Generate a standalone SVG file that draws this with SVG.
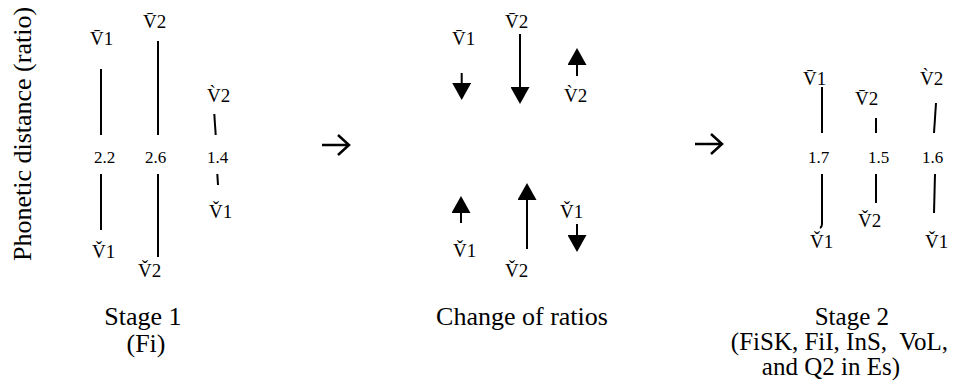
<svg xmlns="http://www.w3.org/2000/svg" width="959" height="389" viewBox="0 0 959 389">
<style>
text{font-family:"Liberation Serif","Times New Roman",serif;fill:#000}
.v{font-size:19px}
.n{font-size:17px}
.c{font-size:26px}
.c2{font-size:25px}
.ln{stroke:#000;stroke-width:2;fill:none}
.sh{stroke:#000;stroke-width:2;fill:none;marker-end:url(#ah)}
.ra{stroke:#000;stroke-width:2.5;fill:none}
</style>
<defs>
<marker id="ah" markerUnits="userSpaceOnUse" markerWidth="18" markerHeight="19" refX="0" refY="9.5" orient="auto" viewBox="0 0 18 19">
<path d="M0,0 L17,9.5 L0,19 z" fill="#000"/>
</marker>
</defs>
<rect width="959" height="389" fill="#fff"/>
<g id="yaxis"><text class="c" transform="translate(31,134) rotate(-90)" text-anchor="middle">Phonetic distance (ratio)</text></g>

<g id="connectors">
<line class="ln" x1="101" y1="69" x2="101" y2="135"/>
<line class="ln" x1="101" y1="174" x2="101" y2="230"/>
<line class="ln" x1="158" y1="41" x2="158" y2="135"/>
<line class="ln" x1="158" y1="174" x2="158" y2="257"/>
<line class="ln" x1="214.3" y1="114" x2="215.7" y2="135"/>
<line class="ln" x1="217.3" y1="174" x2="218" y2="185"/>
<path class="ra" d="M322,145 H348 M338,135 L349,145 L338,155"/>
<line class="sh" x1="461.7" y1="73" x2="461.7" y2="83"/>
<line class="sh" x1="520" y1="34" x2="520" y2="87"/>
<line class="sh" x1="577" y1="76" x2="577" y2="65"/>
<line class="sh" x1="461" y1="223" x2="461" y2="213"/>
<line class="sh" x1="527" y1="249" x2="527" y2="200"/>
<line class="sh" x1="577" y1="224" x2="577" y2="235"/>
<path class="ra" d="M695,144 H721 M711,134 L722,144 L711,154"/>
<line class="ln" x1="822" y1="87" x2="822" y2="133"/>
<path class="ln" d="M822,174 V224 Q822,227 820,228"/>
<line class="ln" x1="876" y1="118" x2="876" y2="133"/>
<line class="ln" x1="876" y1="174" x2="876" y2="203"/>
<line class="ln" x1="936" y1="103" x2="934" y2="133"/>
<line class="ln" x1="935" y1="174" x2="934" y2="213"/>
</g>

<g id="stage1">
<g id="s1-v1-top"><text class="v" x="90" y="45">V&#x304;1</text></g>
<g id="s1-r1"><text class="n" x="94" y="163">2.2</text></g>
<g id="s1-v1-bot"><text class="v" x="92" y="258">V&#x30C;1</text></g>
<g id="s1-v2-top"><text class="v" x="143" y="28">V&#x304;2</text></g>
<g id="s1-r2"><text class="n" x="145" y="163">2.6</text></g>
<g id="s1-v2-bot"><text class="v" x="138" y="277">V&#x30C;2</text></g>
<g id="s1-v2-grave"><text class="v" x="207" y="102">V&#x300;2</text></g>
<g id="s1-r3"><text class="n" x="207" y="163">1.4</text></g>
<g id="s1-v1-caron"><text class="v" x="209" y="218">V&#x30C;1</text></g>
<g id="s1-caption"><text class="c" text-anchor="middle"><tspan x="143" y="325">Stage 1</tspan><tspan x="146" y="352">(Fi)</tspan></text></g>
</g>

<g id="change">
<g id="c-v1-top"><text class="v" x="452" y="45">V&#x304;1</text></g>
<g id="c-v2-top"><text class="v" x="505" y="28">V&#x304;2</text></g>
<g id="c-v2-grave"><text class="v" x="564" y="102">V&#x300;2</text></g>
<g id="c-v1-bot"><text class="v" x="453" y="257">V&#x30C;1</text></g>
<g id="c-v2-bot"><text class="v" x="505" y="277">V&#x30C;2</text></g>
<g id="c-v1-caron"><text class="v" x="560" y="218">V&#x30C;1</text></g>
<g id="c-caption"><text class="c" x="522" y="325" text-anchor="middle">Change of ratios</text></g>
</g>

<g id="stage2">
<g id="s2-v1-top"><text class="v" x="803" y="85">V&#x304;1</text></g>
<g id="s2-r1"><text class="n" x="808" y="163">1.7</text></g>
<g id="s2-v1-bot"><text class="v" x="810" y="248">V&#x30C;1</text></g>
<g id="s2-v2-top"><text class="v" x="855" y="105">V&#x304;2</text></g>
<g id="s2-r2"><text class="n" x="868" y="163">1.5</text></g>
<g id="s2-v2-bot"><text class="v" x="858" y="227">V&#x30C;2</text></g>
<g id="s2-v2-grave"><text class="v" x="920" y="85">V&#x300;2</text></g>
<g id="s2-r3"><text class="n" x="922" y="163">1.6</text></g>
<g id="s2-v1-caron"><text class="v" x="925" y="248">V&#x30C;1</text></g>
<g id="s2-caption"><text class="c2" text-anchor="end"><tspan x="889" y="325">Stage 2</tspan><tspan x="948" y="350">(FiSK, FiI, InS,&#160; VoL,</tspan><tspan x="900" y="375">and Q2 in Es)</tspan></text></g>
</g>
</svg>
